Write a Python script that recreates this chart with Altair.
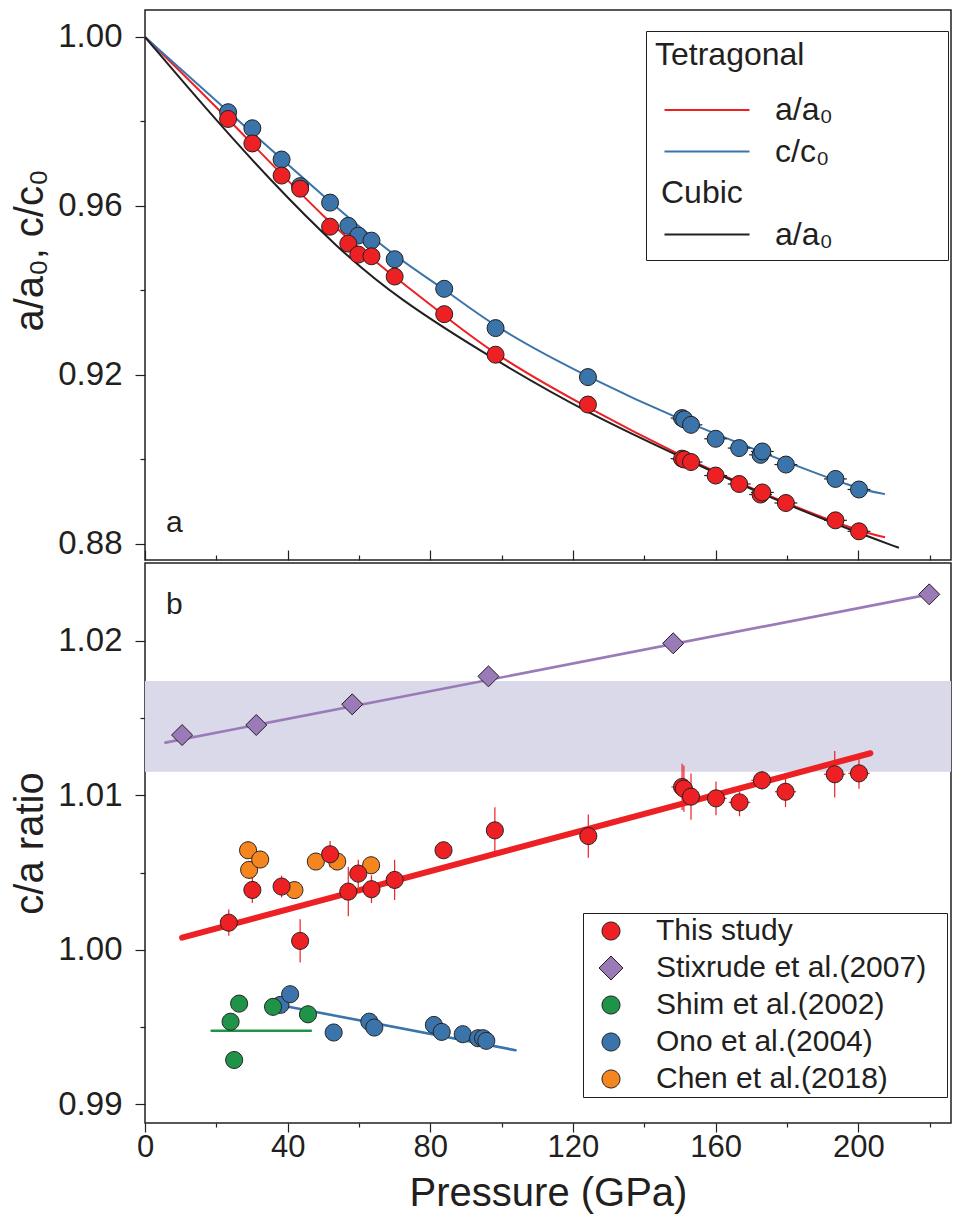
import altair as alt
import pandas as pd

# ---------------- colours / fonts ----------------
RED = "#ed2024"
BLUE = "#3a74aa"
INK = "#231f20"
PURPLE = "#9a7bb8"
GREEN = "#1f9347"
ORANGE = "#f5861f"
BAND = "#d9d9ea"
FONT = "Liberation Sans"

# ---------------- panel (a): lattice parameters ----------------
P_a = [23.3, 30.1, 38.3, 43.5, 51.9, 57.0, 59.8, 63.5, 70.0, 83.9, 98.3, 124.2,
       150.6, 151.2, 153.1, 160.0, 166.6, 172.6, 173.1, 179.7, 193.6, 200.2]
a_a0 = [0.9806, 0.9748, 0.9672, 0.9641, 0.9551, 0.9511, 0.9485, 0.9481, 0.9433, 0.9344, 0.9248, 0.9130,
        0.9002, 0.9000, 0.8994, 0.8962, 0.8942, 0.8917, 0.8922, 0.8897, 0.8856, 0.8830]
c_c0 = [0.9822, 0.9784, 0.9710, 0.9647, 0.9608, 0.9553, 0.9530, 0.9518, 0.9474, 0.9404, 0.9311, 0.9195,
        0.9098, 0.9095, 0.9082, 0.9049, 0.9027, 0.9011, 0.9019, 0.8988, 0.8954, 0.8929]
P_err_a = [0, 0, 0, 0, 0, 0, 0, 0, 0, 0, 0, 0,
           3.2, 3.2, 3.2, 3.2, 3.2, 3.2, 3.2, 3.2, 3.2, 3.2]

# fitted curves
fit_ta_P = [0, 23.3, 52, 70, 84, 98.3, 124, 151, 175, 200, 207.5]
fit_ta_v = [1.0, 0.9808, 0.9553, 0.9432, 0.9340, 0.9246, 0.9122, 0.9005, 0.8912, 0.8830, 0.8816]
fit_tc_P = [0, 23.3, 52, 70.6, 84, 98.3, 124, 151, 175, 200, 207.5]
fit_tc_v = [1.0, 0.9824, 0.9608, 0.9476, 0.9404, 0.9311, 0.9195, 0.9090, 0.9010, 0.8929, 0.8918]
fit_cu_P = [0, 16.9, 35.4, 53.9, 70.6, 98.3, 124, 151, 175, 200, 211.4]
fit_cu_v = [1.0, 0.9832, 0.9658, 0.9501, 0.9382, 0.9234, 0.9110, 0.9003, 0.8910, 0.8826, 0.8791]

# ---------------- panel (b): c/a ratio ----------------
P_b = [23.5, 30.1, 38.3, 43.5, 51.9, 57.0, 59.8, 63.5, 70.0, 83.7, 98.1, 124.3,
       150.6, 151.1, 153.1, 160.1, 166.7, 173.0, 179.6, 193.4, 200.2]
ca_b = [1.00176, 1.00388, 1.00410, 1.00058, 1.00619, 1.00377, 1.00494, 1.00393, 1.00453, 1.00645,
        1.00774, 1.00737, 1.01055, 1.01044, 1.00992, 1.00981, 1.00955, 1.01098, 1.01024, 1.01137, 1.01143]
ca_err_b = [0.00085, 0.00085, 0.0007, 0.0014, 0.00086, 0.0016, 0.0009, 0.0009, 0.0013, 0.0003,
            0.0015, 0.0014, 0.0015, 0.0015, 0.0015, 0.0011, 0.0009, 0.0006, 0.0010, 0.0015, 0.0010]
P_err_b = [0, 0, 0, 0, 0, 0, 0, 0, 0, 0, 0, 0,
           3.0, 3.0, 3.0, 3.0, 3.0, 3.0, 3.0, 3.0, 3.0]

P_stix = [10.4, 31.2, 58.1, 96.3, 148.1, 219.9]
ca_stix = [1.01391, 1.01456, 1.01590, 1.01771, 1.01985, 1.02302]
P_shim = [24.0, 26.4, 25.0, 35.9, 45.7]
ca_shim = [0.99535, 0.99652, 0.99287, 0.99631, 0.99583]
P_ono = [38.0, 40.7, 52.9, 62.9, 64.3, 81.0, 83.2, 89.1, 93.4, 94.8, 95.7]
ca_ono = [0.99644, 0.99713, 0.99465, 0.99535, 0.99497, 0.99514, 0.99469, 0.99454, 0.99428, 0.99428, 0.99411]
P_chen = [28.9, 29.2, 32.3, 41.9, 47.9, 53.9, 63.4]
ca_chen = [1.00645, 1.00518, 1.00585, 1.00387, 1.00572, 1.00572, 1.00548]

line_stix_P = [5.7, 219.9]
line_stix_v = [1.01342, 1.02302]
line_this_P = [10.4, 203.4]
line_this_v = [1.00079, 1.01273]
line_shim_P = [18.7, 46.5]
line_shim_v = [0.99476, 0.99476]
line_ono_P = [39.1, 103.9]
line_ono_v = [0.99637, 0.99350]
band_lo = [1.01154]
band_hi = [1.01741]

SERIES = ["This study", "Stixrude et al.(2007)", "Shim et al.(2002)", "Ono et al.(2004)", "Chen et al.(2018)"]
SERIES_COL = [RED, PURPLE, GREEN, BLUE, ORANGE]

X_TICKS = [0, 20, 40, 60, 80, 100, 120, 140, 160, 180, 200, 220]
Y_TICKS_A = [0.88, 0.90, 0.92, 0.94, 0.96, 0.98, 1.00]
Y_TICKS_B = [0.99, 0.995, 1.00, 1.005, 1.01, 1.015, 1.02]

W = 806
H_A = 550
H_B = 560

# symbol paths (unit box); the trailing zero-length segment only widens the legend frame
CIRC_PATH = "M1,0A1,1,0,1,1,-1,0A1,1,0,1,1,1,0ZM36.7,0L36.7,0"
DIAM_PATH = "M-1.333,0L0,-1.333L1.333,0L0,1.333ZM36.7,0L36.7,0"
LINE_PATH = "M-10.625,0H10.625M56.85,0L56.85,0"
SERIES_SHAPE = [CIRC_PATH, DIAM_PATH, CIRC_PATH, CIRC_PATH, CIRC_PATH]

# ---------------- scales / axes ----------------
XS = alt.Scale(domain=[0, 226], nice=False, zero=False)
YS_A = alt.Scale(domain=[0.87621, 1.00639], nice=False, zero=False)
YS_B = alt.Scale(domain=[0.98879, 1.02505], nice=False, zero=False)

maj40 = "datum.value % 40 == 0"
X_AXIS_A = alt.Axis(orient="top", offset=-H_A, labels=False, title=None, values=X_TICKS,
                    tickSize={"condition": {"test": maj40, "value": 10}, "value": 5})
X_AXIS_B = alt.Axis(values=X_TICKS, title="Pressure (GPa)",
                    labelExpr="datum.value % 40 == 0 ? datum.label : ''",
                    tickSize={"condition": {"test": maj40, "value": 9}, "value": 4},
                    labelPadding=0, titlePadding=11, labelFontSize=31)
majA = "abs(datum.value*25 - round(datum.value*25)) < 0.01"
Y_AXIS_A = alt.Axis(values=Y_TICKS_A, title="a/a\u2080, c/c\u2080",
                    labelExpr=majA + " ? format(datum.value, '.2f') : ''",
                    tickSize={"condition": {"test": majA, "value": 10}, "value": 5},
                    labelPadding=13, titlePadding=7, titleY=240, labelFontSize=33)
majB = "abs(datum.value*100 - round(datum.value*100)) < 0.01"
Y_AXIS_B = alt.Axis(values=Y_TICKS_B, title="c/a ratio",
                    labelExpr=majB + " ? format(datum.value, '.2f') : ''",
                    tickSize={"condition": {"test": majB, "value": 10}, "value": 5},
                    labelPadding=13, titlePadding=7, labelFontSize=33)


def xa(f):
    return alt.X(f"{f}:Q", scale=XS, axis=X_AXIS_A)


def ya(f):
    return alt.Y(f"{f}:Q", scale=YS_A, axis=Y_AXIS_A)


def xb(f):
    return alt.X(f"{f}:Q", scale=XS, axis=X_AXIS_B)


def yb(f):
    return alt.Y(f"{f}:Q", scale=YS_B, axis=Y_AXIS_B)


# ---------------- panel (a) ----------------
lines_a = pd.DataFrame({
    "P": fit_ta_P + fit_tc_P + fit_cu_P,
    "v": fit_ta_v + fit_tc_v + fit_cu_v,
    "key": ["ta"] * len(fit_ta_P) + ["tc"] * len(fit_tc_P) + ["ca"] * len(fit_cu_P),
})
leg_a = alt.Legend(
    title="Tetragonal", titleFont=FONT, titleFontSize=32, titleFontWeight="normal",
    titleColor=INK, titleLimit=1000, titlePadding=22,
    labelFont=FONT, labelFontSize=32, labelColor=INK, labelLimit=1000,
    labelExpr="datum.label == 'ta' ? 'a/a\u2080' : datum.label == 'tc' ? 'c/c\u2080' : "
              "datum.label == 'ca' ? 'a/a\u2080' : '\u00a0'",
    symbolType=LINE_PATH, symbolSize=64, symbolStrokeWidth=2.2,
    symbolOffset=36, labelOffset=52, rowPadding=9.5, padding=9,
    strokeColor=INK, orient="none", legendX=501, legendY=21,
)
curves = alt.Chart(lines_a).mark_line(strokeWidth=2, interpolate="basis").encode(
    x=xa("P"), y=ya("v"),
    color=alt.Color("key:N", scale=alt.Scale(domain=["ta", "tc", "gap", "ca"],
                                              range=[RED, BLUE, "transparent", INK]),
                    legend=leg_a),
)

pts_a = pd.DataFrame({"P": P_a, "a": a_a0, "c": c_c0, "xerr": P_err_a})
pts_a["lo"] = pts_a["P"] - pts_a["xerr"]
pts_a["hi"] = pts_a["P"] + pts_a["xerr"]
base_a = alt.Chart(pts_a)
err_c = base_a.transform_filter("datum.xerr > 0").mark_rule(color=INK, strokeWidth=1.2).encode(
    x=xa("lo"), x2="hi", y=ya("c"))
err_a = base_a.transform_filter("datum.xerr > 0").mark_rule(color=INK, strokeWidth=1.2).encode(
    x=xa("lo"), x2="hi", y=ya("a"))
dots_c = base_a.mark_circle(size=289, fill=BLUE, stroke=INK, strokeWidth=1, opacity=1).encode(
    x=xa("P"), y=ya("c"))
dots_a = base_a.mark_circle(size=289, fill=RED, stroke=INK, strokeWidth=1, opacity=1).encode(
    x=xa("P"), y=ya("a"))

txt_a = alt.Chart(pd.DataFrame({"t": ["a"]})).mark_text(
    font=FONT, fontSize=30, align="left", baseline="alphabetic", color=INK).encode(
    text="t:N", x=alt.value(21), y=alt.value(522))
txt_cubic = alt.Chart(pd.DataFrame({"t": ["Cubic"]})).mark_text(
    font=FONT, fontSize=32, align="left", baseline="alphabetic", color=INK).encode(
    text="t:N", x=alt.value(516), y=alt.value(193))

top = alt.layer(curves, err_c, err_a, dots_c, dots_a, txt_a, txt_cubic).properties(width=W, height=H_A)

# ---------------- panel (b) ----------------
band = alt.Chart(pd.DataFrame({"ca": band_lo, "ca2": band_hi})).mark_rect(color=BAND, opacity=1).encode(
    y=yb("ca"), y2="ca2")


def seg(Ps, vs, col, w):
    return alt.Chart(pd.DataFrame({"P": Ps, "ca": vs})).mark_line(
        color=col, strokeWidth=w, strokeCap="round").encode(x=xb("P"), y=yb("ca"))


l_stix = seg(line_stix_P, line_stix_v, PURPLE, 2.6)
l_this = seg(line_this_P, line_this_v, RED, 6)
l_shim = seg(line_shim_P, line_shim_v, GREEN, 2.6)
l_ono = seg(line_ono_P, line_ono_v, BLUE, 2.6)

pts_b = pd.DataFrame({"P": P_b, "ca": ca_b, "yerr": ca_err_b, "xerr": P_err_b})
pts_b["lo"] = pts_b["ca"] - pts_b["yerr"]
pts_b["hi"] = pts_b["ca"] + pts_b["yerr"]
pts_b["plo"] = pts_b["P"] - pts_b["xerr"]
pts_b["phi"] = pts_b["P"] + pts_b["xerr"]
err_v = alt.Chart(pts_b).mark_rule(color=RED, strokeWidth=1.2).encode(x=xb("P"), y=yb("lo"), y2="hi")
err_h = alt.Chart(pts_b).transform_filter("datum.xerr > 0").mark_rule(color=RED, strokeWidth=1.2).encode(
    x=xb("plo"), x2="phi", y=yb("ca"))

circ = pd.concat([
    pd.DataFrame({"P": P_chen, "ca": ca_chen, "series": SERIES[4]}),
    pd.DataFrame({"P": P_ono, "ca": ca_ono, "series": SERIES[3]}),
    pd.DataFrame({"P": P_shim, "ca": ca_shim, "series": SERIES[2]}),
    pd.DataFrame({"P": P_b, "ca": ca_b, "series": SERIES[0]}),
], ignore_index=True)
dia = pd.DataFrame({"P": P_stix, "ca": ca_stix, "series": SERIES[1]})

leg_b = alt.Legend(
    title=None, orient="none", legendX=438, legendY=903,
    labelFont=FONT, labelFontSize=30, labelColor=INK, labelLimit=1000,
    symbolSize=324, symbolStrokeColor=INK, symbolStrokeWidth=1,
    symbolOffset=10, labelOffset=30, rowPadding=7, padding=3,
    strokeColor=INK, fillColor="white",
)
FILL = alt.Fill("series:N", scale=alt.Scale(domain=SERIES, range=SERIES_COL), legend=leg_b, title=None)
SHAPE = alt.Shape("series:N", scale=alt.Scale(domain=SERIES, range=SERIES_SHAPE), title=None)

dots_circ = alt.Chart(circ).mark_point(filled=True, size=289, stroke=INK, strokeWidth=1, opacity=1,
                                       clip=True).encode(
    x=xb("P"), y=yb("ca"), fill=FILL, shape=SHAPE)
dots_dia = alt.Chart(dia).mark_point(filled=True, size=248, stroke=INK, strokeWidth=1, opacity=1,
                                     clip=True).encode(
    x=xb("P"), y=yb("ca"), fill=FILL, shape=SHAPE)

txt_b = alt.Chart(pd.DataFrame({"t": ["b"]})).mark_text(
    font=FONT, fontSize=30, align="left", baseline="alphabetic", color=INK).encode(
    text="t:N", x=alt.value(21), y=alt.value(51))

bottom = alt.layer(band, l_stix, l_shim, l_ono, l_this, err_v, err_h, dots_circ, dots_dia, txt_b).properties(
    width=W, height=H_B)

chart = alt.vconcat(top, bottom, spacing=0).properties(
    padding={"left": 2, "top": 1, "right": 0, "bottom": 2}
).configure_view(
    stroke=INK, strokeWidth=1.5
).configure_axis(
    labelFont=FONT, labelColor=INK,
    titleFont=FONT, titleFontSize=40, titleFontWeight="normal", titleColor=INK,
    tickColor=INK, tickWidth=1.2, domain=False, grid=False,
    labelFlush=False, labelOverlap=False,
)

chart.save("out.html", embed_options={"renderer": "svg", "actions": False})
